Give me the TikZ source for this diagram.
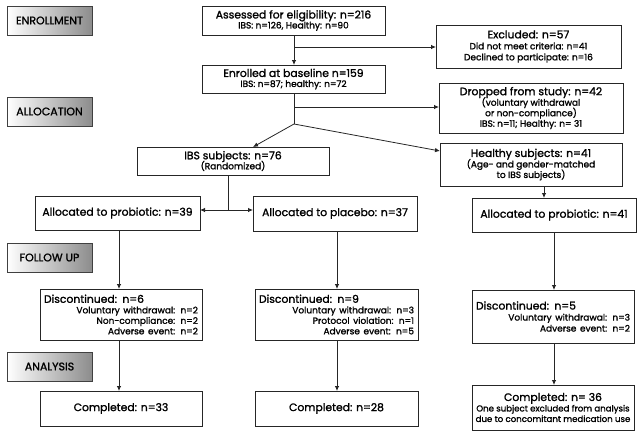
\documentclass[tikz,border=0pt]{standalone}
\usepackage{fontspec}
\setmainfont{Poppins}[BoldFont={Poppins},BoldFeatures={FakeBold=1.4}]
\usetikzlibrary{arrows.meta,positioning,calc}
\begin{document}
\begin{tikzpicture}[x=1pt,y=-1pt,
  every node/.style={inner sep=0pt,outer sep=0pt},
  box/.style={draw=black!85,line width=0.8pt,fill=white,anchor=north west,align=center,font=\fontsize{10.8}{12}\selectfont\bfseries},
  lab/.style={draw=black!75,line width=0.8pt,anchor=north west,left color=white,right color=black!45,shading angle=90,
     minimum width=85pt,minimum height=29pt,font=\fontsize{11}{12}\selectfont\bfseries},
  arr/.style={line width=0.8pt,draw=black!85,-{Latex[length=5pt,width=4.5pt]}},
  ln/.style={line width=0.8pt,draw=black!85}]
\useasboundingbox (0,0) rectangle (641,434);
\newcommand{\sm}{\fontsize{9}{10.6}\selectfont}
\newcommand{\smr}{\fontsize{8.6}{10.2}\selectfont}
% stage labels
\node[lab] (lenr) at (7,6) {ENROLLMENT};
\node[lab] (lall) at (7,97) {ALLOCATION};
\node[lab] (lfol) at (7,243) {FOLLOW UP};
\node[lab] (lana) at (7,352) {ANALYSIS};
% boxes
\node[box,minimum width=183pt,minimum height=29pt] (ass) at (202,6) {Assessed for eligibility: n=216\\[-2pt]{\sm IBS: n=126, Healthy: n=90}};
\node[box,minimum width=183pt,minimum height=28pt] (enr) at (202,65) {Enrolled at baseline n=159\\[-2pt]{\sm IBS: n=87; healthy: n=72}};
\node[box,minimum width=185pt,minimum height=43pt] (exc) at (436,25) {Excluded: n=57\\[-1pt]{\sm Did not meet criteria: n=41}\\[-1pt]{\sm Declined to participate: n=16}};
\node[box,minimum width=184pt,minimum height=50pt] (drop) at (439,83) {Dropped from study: n=42\\[-1.5pt]{\sm (voluntary withdrawal}\\[-1.5pt]{\sm or non-compliance)}\\[-1.5pt]{\sm IBS: n=11; Healthy: n= 31}};
\node[box,minimum width=192pt,minimum height=28pt] (ibs) at (137,147) {IBS subjects: n=76\\[-2pt]{\sm (Randomized)}};
\node[box,minimum width=182pt,minimum height=43pt] (hea) at (440,143) {Healthy subjects: n=41\\[-1.5pt]{\sm (Age- and gender-matched}\\[-1.5pt]{\sm to IBS subjects)}};
\node[box,minimum width=165pt,minimum height=34pt] (ap1) at (35,196) {Allocated to probiotic: n=39};
\node[box,minimum width=164pt,minimum height=35pt] (apl) at (253,196) {Allocated to placebo: n=37};
\node[box,minimum width=164pt,minimum height=34pt] (ap2) at (472,198) {Allocated to probiotic: n=41};
\node[box,minimum width=162pt,minimum height=51pt,text width=154pt,align=left] (d1) at (40,289)
  {Discontinued: n=6\\[-1.5pt]\hspace*{\fill}{\sm Voluntary withdrawal: n=2}\\[-1.5pt]\hspace*{\fill}{\sm Non-compliance: n=2}\\[-1.5pt]\hspace*{\fill}{\sm Adverse event: n=2}};
\node[box,minimum width=163pt,minimum height=51pt,text width=155pt,align=left] (d2) at (255,289)
  {Discontinued: n=9\\[-1.5pt]\hspace*{\fill}{\sm Voluntary withdrawal: n=3}\\[-1.5pt]\hspace*{\fill}{\sm Protocol violation: n=1}\\[-1.5pt]\hspace*{\fill}{\sm Adverse event: n=5}};
\node[box,minimum width=162pt,minimum height=53pt,text width=154pt,align=left] (d3) at (472,290)
  {Discontinued: n=5\\[-1pt]\hspace*{\fill}{\sm Voluntary withdrawal: n=3}\\[-1pt]\hspace*{\fill}{\sm Adverse event: n=2}};
\node[box,minimum width=162pt,minimum height=35pt] (c1) at (40,391) {Completed: n=33};
\node[box,minimum width=163pt,minimum height=35pt] (c2) at (255,391) {Completed: n=28};
\node[box,minimum width=162pt,minimum height=45pt] (c3) at (472,385) {Completed: n= 36\\[-1.5pt]{\smr One subject excluded from analysis}\\[-1.5pt]{\smr due to concomitant medication use}};
% connectors
\coordinate (j0) at (294,124);
\draw[arr] (ass.south -| j0) -- (enr.north -| j0);
\draw[arr] (294,47) -- (exc.west |- 0,47);
\draw[ln] (enr.south -| j0) -- (j0);
\draw[arr] (294,107) -- (drop.west |- 0,107);
\draw[arr] (j0) -- (253,147);
\draw[arr] (j0) -- (440,151);
\coordinate (j1) at (228,210);
\draw[ln] (ibs.south -| j1) -- (j1);
\draw[arr] (j1) -- (ap1.east |- j1);
\draw[arr] (j1) -- (apl.west |- j1);
\draw[arr] (hea.south -| 544,0) -- (ap2.north -| 544,0);
\draw[arr] (ap1.south -| 119,0) -- (d1.north -| 119,0);
\draw[arr] (d1.south -| 119,0) -- (c1.north -| 119,0);
\draw[arr] (apl.south -| 337,0) -- (d2.north -| 337,0);
\draw[arr] (d2.south -| 337,0) -- (c2.north -| 337,0);
\draw[arr] (ap2.south -| 554,0) -- (d3.north -| 554,0);
\draw[arr] (d3.south -| 554,0) -- (c3.north -| 554,0);
\end{tikzpicture}
\end{document}
